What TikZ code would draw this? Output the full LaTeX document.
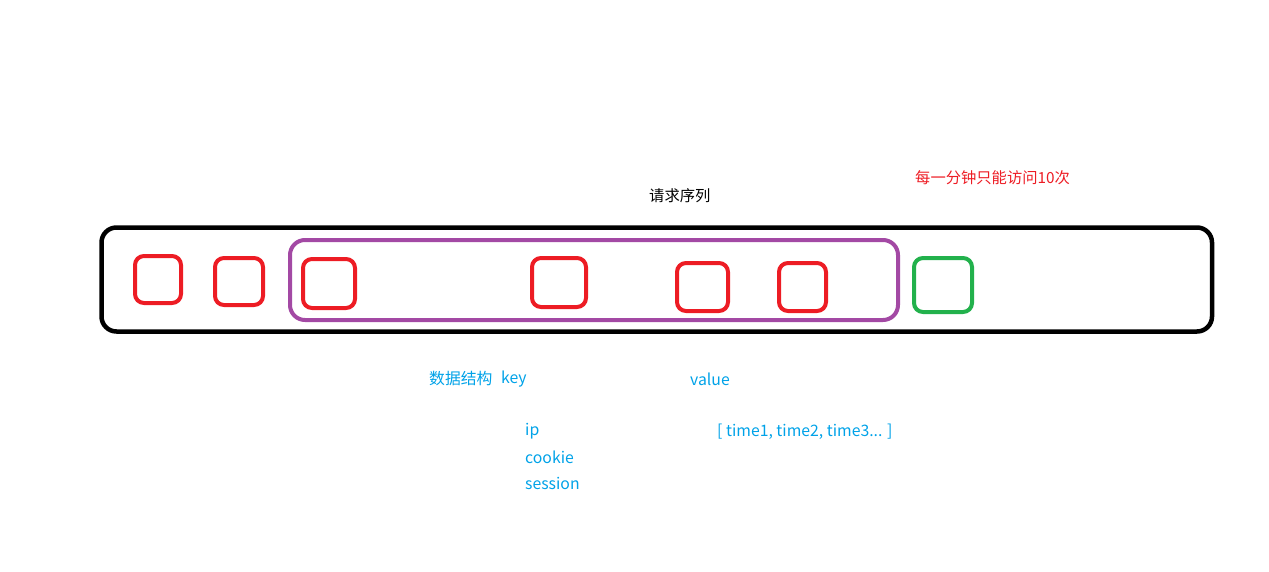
\documentclass[tikz,border=0pt]{standalone}
\usepackage{fontspec}
\setmainfont{Noto Sans CJK SC}
\definecolor{pred}{RGB}{237,28,36}
\definecolor{ppurple}{RGB}{163,73,164}
\definecolor{pgreen}{RGB}{34,177,76}
\definecolor{pblue}{RGB}{0,162,232}
\begin{document}
\begin{tikzpicture}[x=1pt,y=-1pt,
  outerbox/.style={draw=black,line width=4.5pt,rounded corners=15pt},
  winbox/.style={draw=ppurple,line width=4pt,rounded corners=15pt},
  reqbox/.style={draw=pred,line width=4pt,rounded corners=9pt},
  newbox/.style={draw=pgreen,line width=4pt,rounded corners=9pt},
  lbl/.style={font=\fontsize{15.3}{17}\selectfont,inner sep=0pt,anchor=west},
  bluetxt/.style={lbl,text=pblue,font=\fontsize{15.8}{17}\selectfont}]
\useasboundingbox (0,0) rectangle (1269,571);
\draw[outerbox] (101.5,227.5) rectangle (1212,331.5);
\draw[winbox] (290,240) rectangle (898,320);
\draw[reqbox] (135,256) rectangle (181,303);
\draw[reqbox] (215,258) rectangle (263,305);
\draw[reqbox] (303,259) rectangle (355,308);
\draw[reqbox] (532,258) rectangle (586,307);
\draw[reqbox] (677,263) rectangle (728,311);
\draw[reqbox] (779,263) rectangle (826,311);
\draw[newbox] (914,258) rectangle (972,312);
\node[lbl] (title) at (649,196) {请求序列};
\node[lbl,text=pred] (limit) at (915,178) {每一分钟只能访问10次};
\node[bluetxt] (ds) at (429,378.5) {数据结构};
\node[bluetxt] (key) at (501,379.5) {key};
\node[bluetxt] (val) at (690,379.5) {value};
\node[bluetxt] (ip) at (525,431.5) {ip};
\node[bluetxt] (cookie) at (525,457) {cookie};
\node[bluetxt] (session) at (525,483) {session};
\node[bluetxt] (times) at (717,431.5) {[ time1, time2, time3... ]};
\end{tikzpicture}
\end{document}
